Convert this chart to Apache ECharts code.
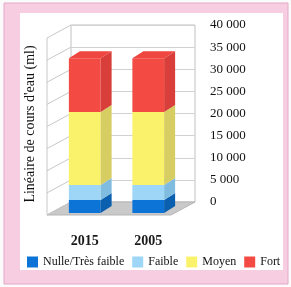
<!DOCTYPE html>
<html>
<head>
<meta charset="utf-8">
<script src="https://cdn.jsdelivr.net/npm/echarts@6/dist/echarts.min.js"></script>
<style>
  html, body { margin: 0; padding: 0; background: #fff; }
  #chart { width: 291px; height: 287px; }
</style>
</head>
<body>
<div id="chart"></div>
<script>
var years = ['2015', '2005'];
var classes = ['Nulle/Très faible', 'Faible', 'Moyen', 'Fort'];
var nulle = [2900, 2900];
var faible = [3400, 3400];
var moyen = [16400, 16400];
var fort = [12100, 12100];
var yTicks = [0, 5000, 10000, 15000, 20000, 25000, 30000, 35000, 40000];

var fronts = ['#0b74d6', '#9dd6f6', '#fbf26c', '#f34a44'];
var sides = ['#0a5fae', '#80bbe0', '#d6cd63', '#d93f3a'];
var tops = ['#2a86dc', '#b3e0f8', '#fdf690', '#ef463f'];

var DX = 11, DY = 7;       // bar depth
var WX = -24, WY = 13;     // wall / floor depth

function fmt(v) {
    return String(v).replace(/\B(?=(\d{3})+(?!\d))/g, ' ');
}

// stack the levels
var levels = [nulle, faible, moyen, fort];
var stacked = [];
var base = years.map(function() { return 0; });
levels.forEach(function(arr) {
    var rows = [];
    arr.forEach(function(v, i) {
        rows.push([i, base[i], base[i] + v]);
        base[i] += v;
    });
    stacked.push(rows);
});

function barRender(k) {
    return function(params, api) {
        var p0 = api.coord([api.value(0), api.value(1)]);
        var p1 = api.coord([api.value(0), api.value(2)]);
        var w = api.size([1, 0])[0] * 0.5;
        var x = p0[0] - w / 2;
        var children = [
            {type: 'rect', shape: {x: x, y: p1[1], width: w, height: p0[1] - p1[1]},
             style: {fill: fronts[k]}},
            {type: 'polygon', shape: {points: [[x + w, p1[1]], [x + w + DX, p1[1] - DY],
                [x + w + DX, p0[1] - DY], [x + w, p0[1]]]}, style: {fill: sides[k]}}
        ];
        if (k === levels.length - 1) {
            children.push({type: 'polygon', shape: {points: [[x, p1[1]], [x + DX, p1[1] - DY],
                [x + w + DX, p1[1] - DY], [x + w, p1[1]]]}, style: {fill: tops[k]}});
        }
        return {type: 'group', children: children};
    };
}

function wallRender(params, api) {
    var v = api.value(0);
    var p = api.coord([0, v]);
    var children = [{type: 'line', shape: {x1: p[0], y1: p[1], x2: p[0] + WX, y2: p[1] + WY},
        style: {stroke: '#c8c8c8', lineWidth: 1}}];
    if (v === 0) {
        var q = api.coord([1, 0]);
        var t = api.coord([0, yTicks[yTicks.length - 1]]);
        children.unshift({type: 'polygon', shape: {points: [[p[0], p[1]], [q[0], q[1]],
            [q[0] + WX, q[1] + WY], [p[0] + WX, p[1] + WY]]},
            style: {fill: '#c9c9c9', stroke: '#b5b5b5'}});
        children.push({type: 'line', shape: {x1: t[0] + WX, y1: t[1] + WY, x2: p[0] + WX, y2: p[1] + WY},
            style: {stroke: '#c8c8c8', lineWidth: 1}});
    }
    return {type: 'group', children: children};
}

var serif = 'Liberation Serif';
var series = [{
    type: 'custom',
    xAxisIndex: 0,
    yAxisIndex: 0,
    silent: true,
    renderItem: wallRender,
    encode: {y: 0},
    data: yTicks.map(function(v) { return [v]; }),
    z: 1
}];
classes.forEach(function(name, k) {
    series.push({
        name: name,
        type: 'custom',
        xAxisIndex: 1,
        yAxisIndex: 1,
        itemStyle: {color: fronts[k]},
        renderItem: barRender(k),
        encode: {x: 0, y: [1, 2]},
        data: stacked[k],
        z: 3 + k
    });
});

var option = {
    animation: false,
    graphic: [
        {type: 'rect', z: -100, silent: true, shape: {x: 0, y: 0, width: 291, height: 287},
         style: {fill: '#fbfbfb'}},
        {type: 'rect', z: -99, silent: true, shape: {x: 4, y: 3, width: 284, height: 281},
         style: {fill: '#f7cde2', stroke: '#e3a9c7', lineWidth: 1}},
        {type: 'rect', z: -98, silent: true, shape: {x: 20, y: 13, width: 263, height: 257},
         style: {fill: '#ffffff'}}
    ],
    grid: [
        {left: 71, right: 96, top: 25, bottom: 85, show: true, borderColor: '#c0c0c0', borderWidth: 1},
        {left: 53, right: 111, top: 35, bottom: 74}
    ],
    xAxis: [
        {gridIndex: 0, type: 'value', min: 0, max: 1, show: false},
        {gridIndex: 1, type: 'category', data: years,
         axisLine: {show: false}, axisTick: {show: false},
         axisLabel: {margin: 21, fontFamily: serif, fontSize: 14, fontWeight: 'bold', color: '#1a1a1a'}}
    ],
    yAxis: [
        {gridIndex: 0, type: 'value', position: 'right', min: 0, max: 40000, interval: 5000,
         axisLine: {show: false}, axisTick: {show: false},
         splitLine: {lineStyle: {color: '#d2d2d2'}},
         axisLabel: {margin: 15, formatter: fmt, fontFamily: serif, fontSize: 13, color: '#111'}},
        {gridIndex: 1, type: 'value', position: 'left', min: 0, max: 40000,
         axisLine: {show: false}, axisTick: {show: false}, splitLine: {show: false},
         axisLabel: {show: false},
         name: "Linéaire de cours d'eau (ml)", nameLocation: 'middle', nameGap: 16,
         nameTextStyle: {fontFamily: serif, fontSize: 14, color: '#111'}}
    ],
    legend: {
        data: classes,
        left: 22,
        top: 251,
        icon: 'rect',
        itemWidth: 11,
        itemHeight: 11,
        itemGap: 8,
        textStyle: {fontFamily: serif, fontSize: 12, color: '#111'}
    },
    series: series
};

var myChart = echarts.init(document.getElementById('chart'));
myChart.setOption(option);
</script>
</body>
</html>
